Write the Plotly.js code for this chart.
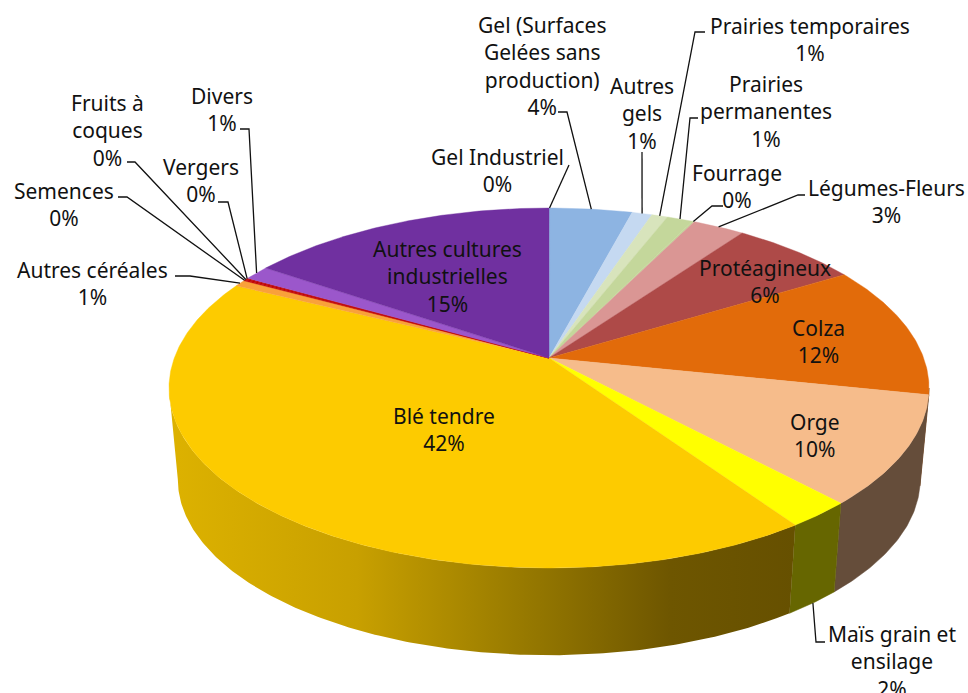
<!DOCTYPE html>
<html><head><meta charset="utf-8">
<script src="https://cdn.plot.ly/plotly-3.0.1.min.js"></script>
<style>html,body{margin:0;padding:0;background:#fff;overflow:hidden}#c{width:968px;height:693px}</style>
</head><body><div id="c"></div>
<script>
// Data, clockwise from 12 o'clock
const categories = ["Gel Industriel","Gel (Surfaces<br>Gelées sans<br>production)","Autres<br>gels","Prairies temporaires","Prairies<br>permanentes","Fourrage","Légumes-Fleurs","Protéagineux","Colza","Orge","Maïs grain et<br>ensilage","Blé tendre","Autres céréales","Semences","Fruits à<br>coques","Vergers","Divers","Autres cultures<br>industrielles"];
const values = [0.05,4.1,1.0,0.8,1.3,0.1,2.6,6.4,11.9,9.75,2.4,41.9,0.6,0.1,0.1,0.1,1.3,15.49];
const topColors = ["#8DB4E2","#8DB4E2","#C5D9F1","#D8E4BC","#C4D79B","#C4D79B","#DA9694","#AE4A48","#E26B0A","#F6BC8B","#FFFF00","#FDCB00","#F9A13A","#C00000","#C00000","#C00000","#9B57CB","#7030A0"];
const sideColors = {8:"#713505",9:"#654D3A",10:"#666600"};
const bleGradient = [[0,"#DDB200"],[0.3,"#C8A000"],[0.55,"#9A7C00"],[0.8,"#6E5600"],[1,"#665000"]];

// Label centres and leader elbows, in picture pixels
const labelPos = [[497,170],[542,66],[642,113],[810,39],[766,111],[737,186],[886,201],[765,281],[818,341],[815,435],[892,661],[444,429],[92,283],[64,204],[107,130],[201,180],[222,109],[447,276]];
const leaders = {0:[[569,165]],1:[[558,112],[567,112]],2:[[642,152]],3:[[705,32],[695,32]],4:[[698,118],[690,118]],5:[[723,206],[712,206]],6:[[805,195],[798,195]],10:[[825,642],[816,642]],12:[[175,276],[190,276]],13:[[118,197],[127,197]],14:[[127,162],[135,162]],15:[[218,202],[228,202]],16:[[240,129],[249,129]]};

// Perspective projection of the disc
const cx=549, apexTop=358, apexBot=450, k=1/6, aT=175, bT=374.7, aB=171, bB=366;
function proj(th,top){const u=Math.sin(th),v=-Math.cos(th),w=1-k*v;
  return top?[cx+bT*u/w,apexTop+aT*v/w]:[cx+bB*u/w,apexBot+aB*v/w];}
const total=values.reduce((a,b)=>a+b,0);
let acc=0;
const ang=values.map(v=>{const s=acc;acc+=v;return [s/total*2*Math.PI,acc/total*2*Math.PI];});
const visL=99.6*Math.PI/180, visR=260.4*Math.PI/180;
function arc(a,b,top){const n=Math.max(2,Math.ceil((b-a)/0.01));const p=[];for(let i=0;i<=n;i++)p.push(proj(a+(b-a)*i/n,top));return p;}

const traces=[];
// Side walls
values.forEach((v,i)=>{
  const a=Math.max(ang[i][0],visL), b=Math.min(ang[i][1],visR);
  if(b<=a) return;
  const p=arc(a,b,true).concat(arc(a,b,false).reverse());
  const t={type:'scatter',mode:'lines',x:p.map(q=>q[0]).concat(p[0][0]),y:p.map(q=>q[1]).concat(p[0][1]),fill:'toself',line:{width:0.5,color:sideColors[i]||'#8a6c00'},hoverinfo:'skip',showlegend:false};
  if(sideColors[i]) t.fillcolor=sideColors[i];
  else { t.fillgradient={type:'horizontal',colorscale:bleGradient}; t.line={width:0}; }
  traces.push(t);
});
// Top face
values.forEach((v,i)=>{
  const p=[[cx,apexTop]].concat(arc(ang[i][0],ang[i][1],true));
  traces.push({type:'scatter',mode:'lines',x:p.map(q=>q[0]).concat(cx),y:p.map(q=>q[1]).concat(apexTop),fill:'toself',fillcolor:topColors[i],line:{width:0.4,color:topColors[i]},name:categories[i].replace(/<br>/g,' '),text:Math.round(v)+'%',hoverinfo:'name+text',showlegend:false});
});
// Leaders
Object.keys(leaders).forEach(key=>{
  const i=+key, mid=(ang[i][0]+ang[i][1])/2;
  const end=proj(mid,i!==10);
  const pts=leaders[key].concat([end]);
  traces.push({type:'scatter',mode:'lines',x:pts.map(q=>q[0]),y:pts.map(q=>q[1]),line:{width:1.3,color:'#111'},hoverinfo:'skip',showlegend:false});
});

const annotations=categories.map((c,i)=>({xref:'x',yref:'y',x:labelPos[i][0],y:labelPos[i][1],text:c+'<br>'+Math.round(values[i])+'%',showarrow:false,xanchor:'center',yanchor:'middle',align:'center',font:{family:'"Noto Sans",sans-serif',size:21,color:'#111'}}));

Plotly.newPlot('c',traces,{
  width:968,height:693,margin:{l:0,r:0,t:0,b:0},paper_bgcolor:'#fff',plot_bgcolor:'#fff',
  xaxis:{range:[0,968],visible:false,fixedrange:true},
  yaxis:{range:[693,0],visible:false,fixedrange:true},
  showlegend:false,annotations
},{displayModeBar:false,staticPlot:true});
</script></body></html>
